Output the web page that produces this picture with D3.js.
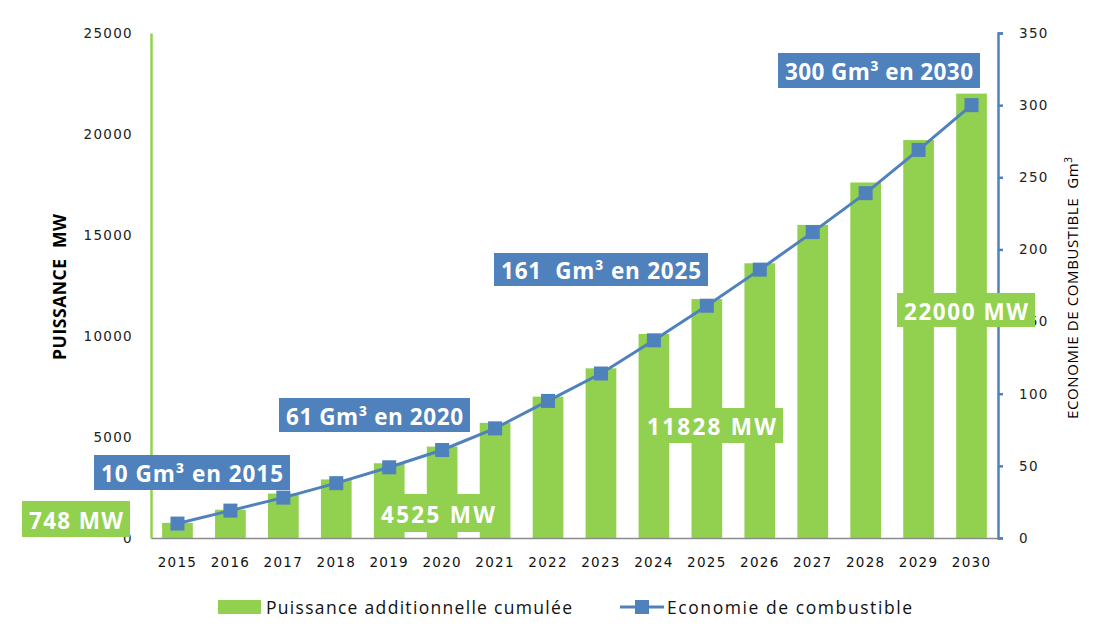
<!DOCTYPE html>
<html><head><meta charset="utf-8">
<script src="https://cdn.jsdelivr.net/npm/d3@7"></script>
<style>body{margin:0;background:#fff}svg{display:block}text{white-space:pre}</style>
</head><body>
<svg id="c" width="1111" height="628"></svg>
<script>
const years = ["2015","2016","2017","2018","2019","2020","2021","2022","2023","2024","2025","2026","2027","2028","2029","2030"];
const puissance = [748,1400,2200,2900,3700,4525,5700,7000,8400,10100,11828,13600,15500,17600,19700,22000];
const economie = [10,19,28,38,49,61,76,95,114,137,161,186,212,239,269,300];
const leftTicks = [0,5000,10000,15000,20000,25000];
const rightTicks = [0,50,100,150,200,250,300,350];
const seriesNames = ["Puissance additionnelle cumulée","Economie de combustible"];
const gmLabels = [
  {text:"10 Gm³ en 2015", box:[94,455,290,490]},
  {text:"61 Gm³ en 2020", box:[279,398,470,432]},
  {text:"161  Gm³ en 2025", box:[494,253,708,286]},
  {text:"300 Gm³ en 2030", box:[778,53,980,88]}
];
const mwLabels = [
  {text:"748 MW", box:[22,501,130,537]},
  {text:"4525 MW", box:[374,494,502,532]},
  {text:"11828 MW", box:[640,408,783,443]},
  {text:"22000 MW", box:[897,293,1035,327]}
];

const GREEN = "#92D050", BLUE = "#4F81BD";
const svg = d3.select("#c");
const L = 151, R = 998, T = 33, B = 538;
const x = d3.scaleBand().domain(years).range([L, R]).paddingInner(0.42).paddingOuter(0.21);
const yL = d3.scaleLinear().domain([0,25000]).range([B,T]);
const yR = d3.scaleLinear().domain([0,350]).range([B,T]);

// bars
svg.append("g").selectAll("rect").data(years).join("rect")
  .attr("x", d=>x(d)).attr("width", x.bandwidth())
  .attr("y", (d,i)=>yL(puissance[i])).attr("height",(d,i)=>B-yL(puissance[i]))
  .attr("fill", GREEN);

function styleTicks(g){
  g.selectAll("text").attr("font-family","DejaVu Sans").attr("font-size",13.5)
   .attr("fill","#222").attr("letter-spacing","1.3px");
}
// left axis
const gl = svg.append("g").attr("transform",`translate(${L},0)`)
  .call(d3.axisLeft(yL).tickValues(leftTicks).tickSize(0).tickPadding(18).tickFormat(d3.format("d")));
gl.select(".domain").attr("stroke",GREEN).attr("stroke-width",2.5);
styleTicks(gl);

// right axis
const gr = svg.append("g").attr("transform",`translate(${R},0)`)
  .call(d3.axisRight(yR).tickValues(rightTicks).tickSizeInner(5).tickSizeOuter(5).tickPadding(16));
gr.select(".domain").attr("stroke",BLUE).attr("stroke-width",2.5);
gr.selectAll(".tick line").attr("stroke",BLUE).attr("stroke-width",2.5);
styleTicks(gr);

// bottom axis
const gb = svg.append("g").attr("transform",`translate(0,${B})`)
  .call(d3.axisBottom(x).tickSize(0).tickPadding(19));
gb.select(".domain").attr("stroke","#8c8c8c").attr("stroke-width",1.5);
styleTicks(gb);
gb.selectAll("text").attr("fill","#111");

// line
const cx = (d)=>x(d)+x.bandwidth()/2;
svg.append("path").datum(economie)
  .attr("d", d3.line().x((d,i)=>cx(years[i])).y(d=>yR(d)))
  .attr("fill","none").attr("stroke",BLUE).attr("stroke-width",3);
svg.append("g").selectAll("rect").data(economie).join("rect")
  .attr("x",(d,i)=>cx(years[i])-7).attr("y",d=>yR(d)-7)
  .attr("width",14).attr("height",14).attr("fill",BLUE);

// annotation boxes
function boxes(arr, color){
  const g = svg.append("g").selectAll("g").data(arr).join("g");
  g.append("rect").attr("x",d=>d.box[0]).attr("y",d=>d.box[1])
    .attr("width",d=>d.box[2]-d.box[0]).attr("height",d=>d.box[3]-d.box[1]).attr("fill",color);
  g.append("text").attr("x",d=>(d.box[0]+d.box[2])/2).attr("y",d=>(d.box[1]+d.box[3])/2+1)
    .attr("text-anchor","middle").attr("dominant-baseline","central")
    .attr("font-family","Open Sans").attr("font-weight","bold").attr("font-size",22.5)
    .attr("textLength",d=>d.box[2]-d.box[0]-14).attr("lengthAdjust","spacing")
    .attr("fill","#fff").text(d=>d.text);
}
boxes(mwLabels, GREEN);
boxes(gmLabels, BLUE);

// axis titles
svg.append("text").attr("transform","translate(66,287) rotate(-90)").attr("text-anchor","middle")
  .attr("font-family","Open Sans").attr("font-weight","bold").attr("font-size",17.5).attr("fill","#000")
  .attr("textLength",146).attr("lengthAdjust","spacing")
  .text("PUISSANCE  MW");
const rt = svg.append("text").attr("transform","translate(1078,288) rotate(-90)").attr("text-anchor","middle")
  .attr("font-family","Open Sans").attr("font-size",15).attr("fill","#000")
  .attr("textLength",262).attr("lengthAdjust","spacing");
rt.append("tspan").text("ECONOMIE DE COMBUSTIBLE  Gm");
rt.append("tspan").attr("font-size",10).attr("dy",-6).text("3");

// legend
const lg = svg.append("g");
lg.append("rect").attr("x",218).attr("y",600).attr("width",43).attr("height",14).attr("fill",GREEN);
lg.append("text").attr("x",266).attr("y",607).attr("dominant-baseline","central")
  .attr("font-family","Open Sans").attr("font-size",17.5).attr("fill","#111")
  .attr("textLength",306).attr("lengthAdjust","spacing").text(seriesNames[0]);
lg.append("line").attr("x1",620).attr("x2",664).attr("y1",607).attr("y2",607).attr("stroke",BLUE).attr("stroke-width",3);
lg.append("rect").attr("x",635).attr("y",600).attr("width",14).attr("height",14).attr("fill",BLUE);
lg.append("text").attr("x",667).attr("y",607).attr("dominant-baseline","central")
  .attr("font-family","Open Sans").attr("font-size",17.5).attr("fill","#111")
  .attr("textLength",245).attr("lengthAdjust","spacing").text(seriesNames[1]);
</script>
</body></html>
